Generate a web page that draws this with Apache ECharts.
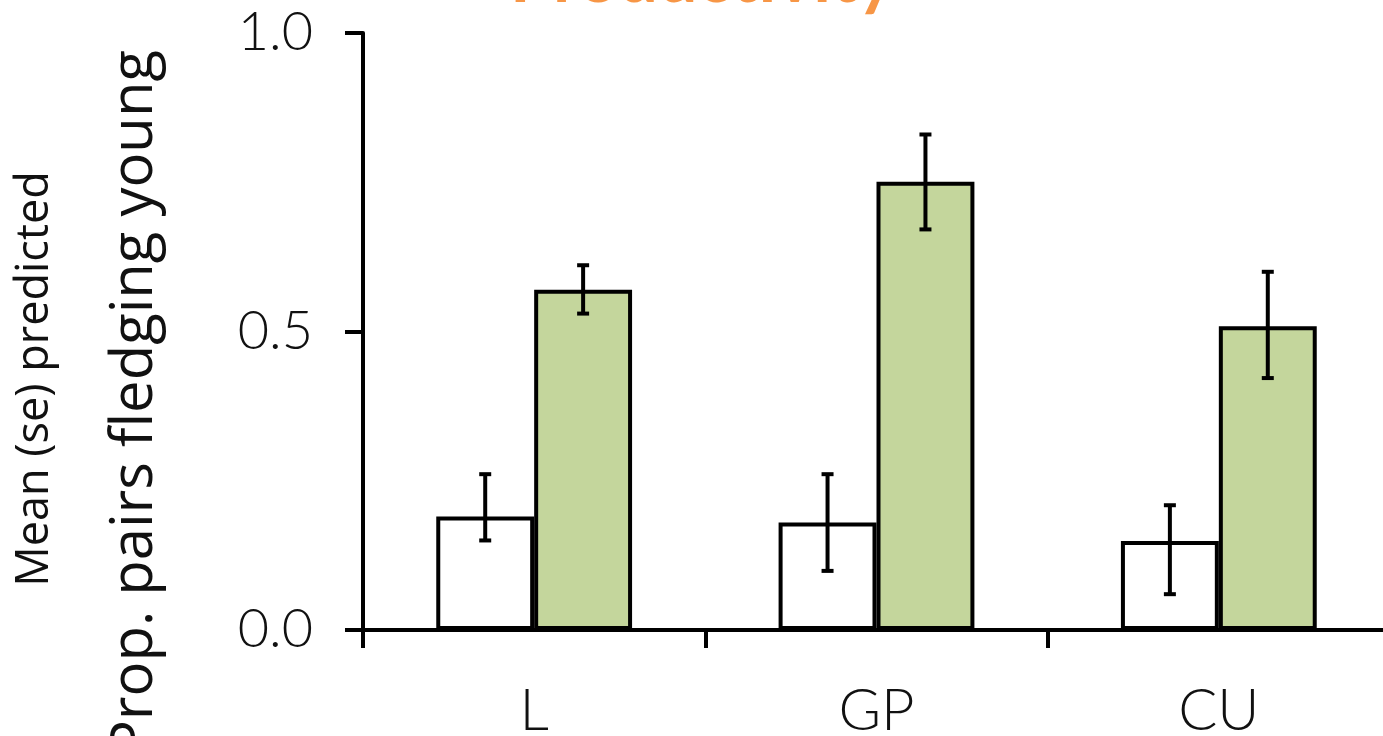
<!DOCTYPE html>
<html>
<head>
<meta charset="utf-8">
<script src="https://cdn.jsdelivr.net/npm/echarts@6/dist/echarts.min.js"></script>
<style>
html,body{margin:0;padding:0;background:#fff;}
#chart{width:1383px;height:736px;}
</style>
</head>
<body>
<div id="chart"></div>
<script>
const categories = ['L', 'GP', 'CU'];
const controlMean = [0.190, 0.180, 0.149];
const controlLow = [0.150, 0.099, 0.060];
const controlHigh = [0.261, 0.261, 0.209];
const treatMean = [0.570, 0.751, 0.509];
const treatLow = [0.530, 0.671, 0.422];
const treatHigh = [0.611, 0.830, 0.600];
const yTicks = [0, 0.5, 1.0];

const BAR_FRAC = 0.286;
const FONT = 'Lato, "Open Sans", sans-serif';
const NAME_FONT = '"Open Sans", Lato, sans-serif';

function errData(low, high) {
  return categories.map((c, i) => [i, low[i], high[i]]);
}
function errRender(side) {
  return function (params, api) {
    const i = api.value(0);
    const lo = api.coord([i, api.value(1)]);
    const hi = api.coord([i, api.value(2)]);
    const band = api.size([1, 0])[0];
    const x = lo[0] + side * band * BAR_FRAC / 2;
    const cap = 6;
    const style = { stroke: '#000', lineWidth: 4, fill: null };
    return {
      type: 'group',
      children: [
        { type: 'line', shape: { x1: x, y1: lo[1], x2: x, y2: hi[1] }, style: style },
        { type: 'line', shape: { x1: x - cap, y1: lo[1], x2: x + cap, y2: lo[1] }, style: style },
        { type: 'line', shape: { x1: x - cap, y1: hi[1], x2: x + cap, y2: hi[1] }, style: style }
      ]
    };
  };
}

const chart = echarts.init(document.getElementById('chart'));
chart.setOption({
  animation: false,
  backgroundColor: '#fff',
  grid: { left: 363, top: 33, bottom: 106, width: 1027, containLabel: false, outerBoundsMode: 'none' },
  graphic: [
    { type: 'text', x: 702, y: 14, style: { text: 'Productivity', fill: '#f79646', font: 'bold 70px ' + FONT, textAlign: 'center', textVerticalAlign: 'bottom' } },
    { type: 'text', x: 135, y: 50, rotation: Math.PI / 2, style: { text: 'Prop. pairs fledging young', fill: '#111', font: '58px ' + NAME_FONT, textAlign: 'right', textVerticalAlign: 'middle' } },
    { type: 'text', x: 35, y: 379, rotation: Math.PI / 2, style: { text: 'Mean (se) predicted', fill: '#111', font: '45px ' + NAME_FONT, textAlign: 'center', textVerticalAlign: 'middle' } }
  ],
  xAxis: {
    type: 'category',
    data: categories,
    axisLine: { lineStyle: { color: '#000', width: 4 } },
    axisTick: { show: true, length: 18, lineStyle: { color: '#000', width: 4 } },
    axisLabel: { color: '#111', fontSize: 58, fontFamily: FONT, fontWeight: 300, margin: 52 },
    splitLine: { show: false }
  },
  yAxis: {
    type: 'value',
    min: 0, max: 1, interval: 0.5,
    axisLine: { show: true, lineStyle: { color: '#000', width: 4 } },
    axisTick: { show: true, length: 18, lineStyle: { color: '#000', width: 4 } },
    axisLabel: { color: '#111', fontSize: 54, fontFamily: FONT, fontWeight: 300, margin: 50,
      formatter: v => yTicks.includes(v) ? v.toFixed(1) : '' },
    splitLine: { show: false }
  },
  series: [
    { type: 'bar', name: 'control', data: controlMean, barWidth: (BAR_FRAC * 100) + '%', barGap: '0%',
      itemStyle: { color: '#fff', borderColor: '#000', borderWidth: 4 } },
    { type: 'bar', name: 'treatment', data: treatMean, barWidth: (BAR_FRAC * 100) + '%', barGap: '0%',
      itemStyle: { color: '#c4d69c', borderColor: '#000', borderWidth: 4 } },
    { type: 'custom', data: errData(controlLow, controlHigh), renderItem: errRender(-1), z: 5 },
    { type: 'custom', data: errData(treatLow, treatHigh), renderItem: errRender(1), z: 5 }
  ]
});
</script>
</body>
</html>
